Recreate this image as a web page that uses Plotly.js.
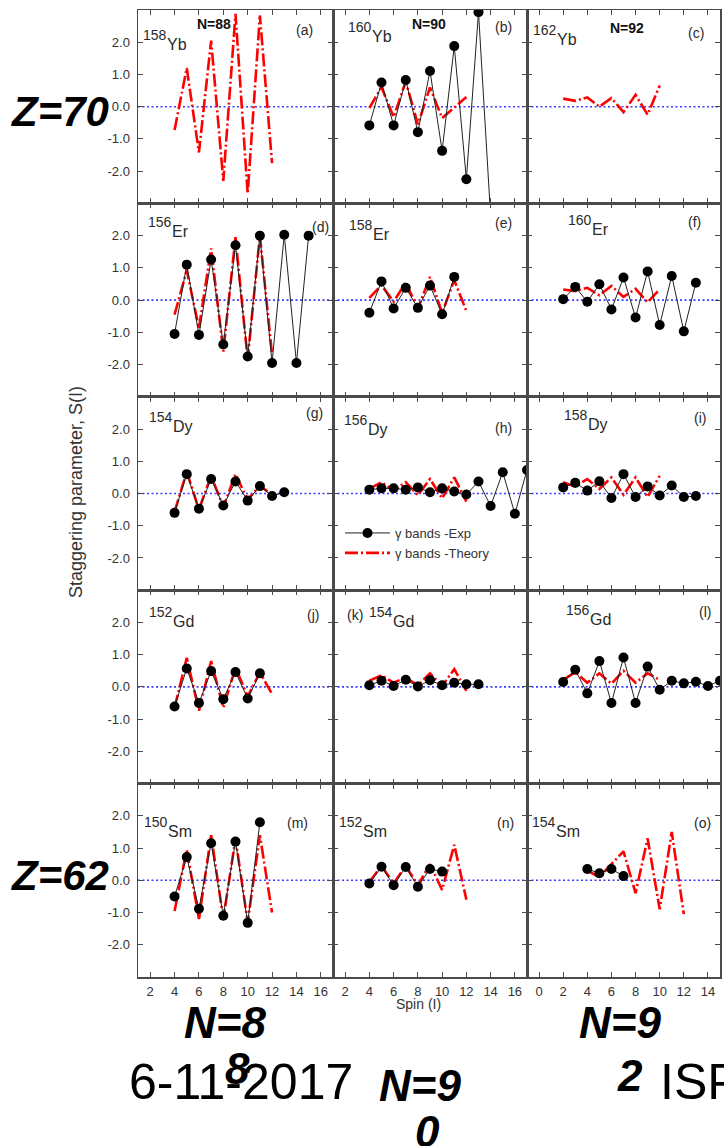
<!DOCTYPE html>
<html>
<head>
<meta charset="utf-8">
<script src="https://cdn.plot.ly/plotly-3.0.1.min.js"></script>
<style>html,body{margin:0;padding:0;background:#fff;}#chart{width:724px;height:1146px;}</style>
</head>
<body>
<div id="chart"></div>
<script>
// ---------------- DATA ----------------
const massNumbers = ['158','160','162','156','158','160','154','156','158','152','154','156','150','152','154'];
const elements    = ['Yb','Yb','Yb','Er','Er','Er','Dy','Dy','Dy','Gd','Gd','Gd','Sm','Sm','Sm'];
const panelLetters = ['a','b','c','d','e','f','g','h','i','j','k','l','m','n','o'];
const neutronLabels = ['N=88','N=90','N=92'];
const xTicksLeft = [2,4,6,8,10,12,14,16];
const xTicksRight = [0,2,4,6,8,10,12,14];
const yTickVals = [-2,-1,0,1,2];
const yTickText = ['-2.0','-1.0','0.0','1.0','2.0'];

// (a) 158Yb
const thSpin_a = [4,5,6,7,8,9,10,11,12];
const thS_a    = [-0.72,1.2,-1.42,2.05,-2.3,2.88,-2.7,2.83,-1.75];
// (b) 160Yb
const expSpin_b = [4,5,6,7,8,9,10,11,12,13,14];
const expS_b    = [-0.58,0.75,-0.58,0.83,-0.79,1.11,-1.37,1.88,-2.25,2.93,-3.4];
const thSpin_b  = [4,5,6,7,8,9,10,11,12];
const thS_b     = [-0.04,0.6,-0.32,0.78,-0.55,0.6,-0.35,-0.03,0.3];
// (c) 162Yb
const thSpin_c = [2,3,4,5,6,7,8,9,10];
const thS_c    = [0.25,0.18,0.29,0.0,0.27,-0.17,0.37,-0.25,0.66];
// (d) 156Er
const expSpin_d = [4,5,6,7,8,9,10,11,12,13,14,15];
const expS_d    = [-1.05,1.1,-1.08,1.26,-1.38,1.7,-1.75,2.0,-1.95,2.03,-1.95,2.0];
const thSpin_d  = [4,5,6,7,8,9,10,11,12];
const thS_d     = [-0.45,0.92,-0.87,1.6,-1.6,1.95,-1.85,2.0,-1.7];
// (e) 158Er
const expSpin_e = [4,5,6,7,8,9,10,11];
const expS_e    = [-0.39,0.58,-0.26,0.38,-0.24,0.45,-0.44,0.72];
const thSpin_e  = [4,5,6,7,8,9,10,11,12];
const thS_e     = [0.07,0.46,-0.05,0.54,-0.26,0.72,-0.4,0.62,-0.34];
// (f) 160Er
const expSpin_f = [2,3,4,5,6,7,8,9,10,11,12,13];
const expS_f    = [0.03,0.41,-0.05,0.49,-0.29,0.7,-0.54,0.89,-0.77,0.75,-0.97,0.54];
const thSpin_f  = [2,3,4,5,6,7,8,9,10];
const thS_f     = [0.33,0.28,0.38,0.15,0.44,0.1,0.35,-0.07,0.34];
// (g) 154Dy
const expSpin_g = [4,5,6,7,8,9,10,11,12,13];
const expS_g    = [-0.6,0.6,-0.47,0.45,-0.37,0.37,-0.22,0.23,-0.08,0.04];
const thSpin_g  = [4,5,6,7,8,9,10,11,12];
const thS_g     = [-0.57,0.68,-0.5,0.55,-0.42,0.6,-0.2,0.25,-0.05];
// (h) 156Dy
const expSpin_h = [4,5,6,7,8,9,10,11,12,13,14,15,16,17];
const expS_h    = [0.12,0.16,0.16,0.12,0.19,0.04,0.16,0.06,-0.03,0.37,-0.39,0.66,-0.63,0.73];
const thSpin_h  = [4,5,6,7,8,9,10,11,12];
const thS_h     = [0.15,0.35,0.1,0.35,-0.05,0.45,-0.15,0.5,-0.25];
// (i) 158Dy
const expSpin_i = [2,3,4,5,6,7,8,9,10,11,12,13];
const expS_i    = [0.19,0.33,0.09,0.38,-0.14,0.6,-0.11,0.22,-0.06,0.25,-0.11,-0.08];
const thSpin_i  = [2,3,4,5,6,7,8,9,10];
const thS_i     = [0.35,0.22,0.45,0.14,0.5,-0.04,0.5,-0.11,0.55];
// (j) 152Gd
const expSpin_j = [4,5,6,7,8,9,10,11];
const expS_j    = [-0.61,0.57,-0.5,0.49,-0.38,0.46,-0.36,0.42];
const thSpin_j  = [4,5,6,7,8,9,10,11,12];
const thS_j     = [-0.64,0.9,-0.74,0.8,-0.64,0.6,-0.3,0.45,-0.22];
// (k) 154Gd
const expSpin_k = [4,5,6,7,8,9,10,11,12,13];
const expS_k    = [0.05,0.19,0.03,0.22,0.01,0.21,0.05,0.13,0.08,0.08];
const thSpin_k  = [4,5,6,7,8,9,10,11,12];
const thS_k     = [0.19,0.36,0.13,0.29,0.05,0.42,0.03,0.55,-0.12];
// (l) 156Gd
const expSpin_l = [2,3,4,5,6,7,8,9,10,11,12,13,14,15];
const expS_l    = [0.15,0.53,-0.2,0.8,-0.5,0.91,-0.5,0.63,-0.09,0.19,0.11,0.16,0.03,0.19];
const thSpin_l  = [2,3,4,5,6,7,8,9,10];
const thS_l     = [0.22,0.46,0.13,0.42,0.1,0.5,0.13,0.42,0.22];
// (m) 150Sm
const expSpin_m = [4,5,6,7,8,9,10,11];
const expS_m    = [-0.5,0.72,-0.88,1.15,-1.1,1.2,-1.32,1.8];
const thSpin_m  = [4,5,6,7,8,9,10,11,12];
const thS_m     = [-0.95,0.95,-1.2,1.4,-1.2,1.3,-1.3,1.4,-1.0];
// (n) 152Sm
const expSpin_n = [4,5,6,7,8,9,10];
const expS_n    = [-0.1,0.42,-0.15,0.41,-0.2,0.35,0.27];
const thSpin_n  = [4,5,6,7,8,9,10,11,12];
const thS_n     = [-0.05,0.45,-0.1,0.45,-0.15,0.5,-0.3,1.1,-0.6];
// (o) 154Sm
const expSpin_o = [4,5,6,7];
const expS_o    = [0.35,0.22,0.35,0.13];
const thSpin_o  = [4,5,6,7,8,9,10,11,12];
const thS_o     = [0.3,0.1,0.5,0.9,-0.4,1.3,-0.9,1.5,-1.05];

const expSeries = [null,[expSpin_b,expS_b],null,[expSpin_d,expS_d],[expSpin_e,expS_e],[expSpin_f,expS_f],
  [expSpin_g,expS_g],[expSpin_h,expS_h],[expSpin_i,expS_i],[expSpin_j,expS_j],[expSpin_k,expS_k],[expSpin_l,expS_l],
  [expSpin_m,expS_m],[expSpin_n,expS_n],[expSpin_o,expS_o]];
const thSeries = [[thSpin_a,thS_a],[thSpin_b,thS_b],[thSpin_c,thS_c],[thSpin_d,thS_d],[thSpin_e,thS_e],[thSpin_f,thS_f],
  [thSpin_g,thS_g],[thSpin_h,thS_h],[thSpin_i,thS_i],[thSpin_j,thS_j],[thSpin_k,thS_k],[thSpin_l,thS_l],
  [thSpin_m,thS_m],[thSpin_n,thS_n],[thSpin_o,thS_o]];

// ---------------- LAYOUT GEOMETRY ----------------
const W = 724, H = 1146;
const colPx = [138, 333, 527, 720];
const rowPx = [10, 203.4, 396.8, 590.2, 783.6, 977];
const px = v => v / W;
const py = v => 1 - v / H;
const FONT = 'Liberation Sans, Arial, sans-serif';
const axisColor = '#4a4a4a';
const textColor = '#333';

// isotope label: left x and glyph-top y of the mass number, in px
const isoPos = [[142,28],[347,20],[532,23],[147,215],[348,218],[567,213],[148,410],[343,413],[563,408],[148,605],[368,605],[565,603],[143,815],[338,815],[531,815]];
const letterPos = [[304,30],[503,27],[696,33],[320,227],[503,223],[694,222],[314,413],[503,428],[700,418],[313,615],[355,615],[705,612],[297,823],[505,823],[702,823]];
const nPos = [[214,24],[429,24],[627,28]];

const traces = [];
const layout = {
  width: W, height: H,
  margin: {l:0, r:0, t:0, b:0},
  paper_bgcolor: '#fff', plot_bgcolor: '#fff',
  font: {family: FONT, color: textColor, size: 12},
  showlegend: true,
  legend: {x: px(340), y: py(518), xanchor: 'left', yanchor: 'top',
           bgcolor: 'rgba(0,0,0,0)', font: {family: FONT, size: 13, color: textColor},
           itemwidth: 45, tracegroupgap: 0},
  shapes: [], annotations: []
};

let expLegendShown = false, thLegendShown = false;
for (let i = 0; i < 15; i++) {
  const r = Math.floor(i / 3), c = i % 3;
  const n = i + 1;
  const xa = n === 1 ? 'x' : 'x' + n;
  const ya = n === 1 ? 'y' : 'y' + n;
  const xKey = n === 1 ? 'xaxis' : 'xaxis' + n;
  const yKey = n === 1 ? 'yaxis' : 'yaxis' + n;
  const xRange = c === 2 ? [-1, 15] : [1, 17];
  layout[xKey] = {
    domain: [px(colPx[c]), px(colPx[c + 1])], anchor: ya, range: xRange,
    tickvals: c === 2 ? xTicksRight : xTicksLeft,
    showticklabels: r === 4, ticks: 'inside', ticklen: 5, tickwidth: 1, tickcolor: axisColor,
    showline: true, linecolor: axisColor, linewidth: 1.5, mirror: 'ticks',
    showgrid: false, zeroline: false, fixedrange: true, ticklabelstandoff: 2,
    tickfont: {family: FONT, size: 13, color: textColor}
  };
  layout[yKey] = {
    domain: [py(rowPx[r + 1]), py(rowPx[r])], anchor: xa, range: [-3, 3],
    tickvals: yTickVals, ticktext: yTickText,
    showticklabels: c === 0, ticks: 'inside', ticklen: 5, tickwidth: 1, tickcolor: axisColor,
    showline: true, linecolor: axisColor, linewidth: 1.5, mirror: 'ticks',
    showgrid: false, zeroline: false, fixedrange: true, ticklabelstandoff: 4,
    tickfont: {family: FONT, size: 13, color: textColor}
  };
  // blue dotted zero line
  layout.shapes.push({type: 'line', xref: xa + ' domain', yref: ya, x0: 0, x1: 1, y0: 0, y1: 0,
    line: {color: '#3b3bff', width: 1.6, dash: '2px,2.5px'}, layer: 'below'});

  const th = thSeries[i];
  traces.push({x: th[0], y: th[1], xaxis: xa, yaxis: ya, type: 'scatter', mode: 'lines',
    name: '\u03b3 bands -Theory', legendrank: 2,
    showlegend: !thLegendShown,
    line: {color: '#ff0000', width: 2.6, dash: '13px,3px,2px,3px'}, hoverinfo: 'skip'});
  thLegendShown = true;
  const ex = expSeries[i];
  if (ex) {
    traces.push({x: ex[0], y: ex[1], xaxis: xa, yaxis: ya, type: 'scatter', mode: 'lines+markers',
      name: '\u03b3 bands -Exp', legendrank: 1,
      showlegend: !expLegendShown,
      line: {color: '#222', width: 1}, marker: {color: '#000', size: 10}, hoverinfo: 'skip'});
    expLegendShown = true;
  }

  // isotope label: mass number (raised) and element symbol (lowered)
  const lx = isoPos[i][0], ty = isoPos[i][1];
  layout.annotations.push({xref: 'paper', yref: 'paper', x: px(lx - 1), y: py(ty - 3),
    xanchor: 'left', yanchor: 'top', showarrow: false, text: massNumbers[i],
    font: {family: FONT, size: 14, color: '#2a2a2a'}});
  layout.annotations.push({xref: 'paper', yref: 'paper', x: px(lx + 23), y: py(ty + 6),
    xanchor: 'left', yanchor: 'top', showarrow: false, text: elements[i],
    font: {family: FONT, size: 16, color: '#2a2a2a'}});
  // panel letter
  layout.annotations.push({xref: 'paper', yref: 'paper', x: px(letterPos[i][0]), y: py(letterPos[i][1]),
    xanchor: 'center', yanchor: 'middle', showarrow: false,
    text: '(' + panelLetters[i] + ')', font: {family: FONT, size: 14, color: '#2a2a2a'}});
}
// N labels at top
for (let k = 0; k < 3; k++) {
  layout.annotations.push({xref: 'paper', yref: 'paper', x: px(nPos[k][0]), y: py(nPos[k][1]),
    xanchor: 'center', yanchor: 'middle', showarrow: false,
    text: '<b>' + neutronLabels[k] + '</b>', font: {family: FONT, size: 14, color: '#111'}});
}
// axis titles
layout.annotations.push({xref: 'paper', yref: 'paper', x: px(76), y: py(492), xanchor: 'center', yanchor: 'middle',
  showarrow: false, textangle: -90, text: 'Staggering parameter, S(I)', font: {family: FONT, size: 18, color: textColor}});
layout.annotations.push({xref: 'paper', yref: 'paper', x: px(418), y: py(1004), xanchor: 'center', yanchor: 'middle',
  showarrow: false, text: 'Spin (I)', font: {family: FONT, size: 14, color: textColor}});

// big slide labels
const bigZ = {family: FONT, size: 42, color: '#000'};
const bigN = {family: FONT, size: 44, color: '#000'};
const bigTexts = [
  ['<b><i>Z=70</i></b>', 60, 112, bigZ],
  ['<b><i>Z=62</i></b>', 60, 875, bigZ],
  ['<b><i>N=8</i></b>', 225, 1022, bigN],
  ['<b><i>8</i></b>', 237, 1068, bigN],
  ['<b><i>N=9</i></b>', 420, 1085, bigN],
  ['<b><i>0</i></b>', 427, 1131, bigN],
  ['<b><i>N=9</i></b>', 620, 1022, bigN],
  ['<b><i>2</i></b>', 630, 1075, bigN],
  ['6-11-2017', 241, 1082, {family: FONT, size: 50, color: '#000'}],
  ['ISP', 700, 1082, {family: FONT, size: 50, color: '#000'}]
];
bigTexts.forEach(t => layout.annotations.push({xref: 'paper', yref: 'paper', x: px(t[1]), y: py(t[2]),
  xanchor: 'center', yanchor: 'middle', showarrow: false, text: t[0], font: t[3]}));

Plotly.newPlot('chart', traces, layout, {staticPlot: true, displayModeBar: false});
</script>
</body>
</html>
